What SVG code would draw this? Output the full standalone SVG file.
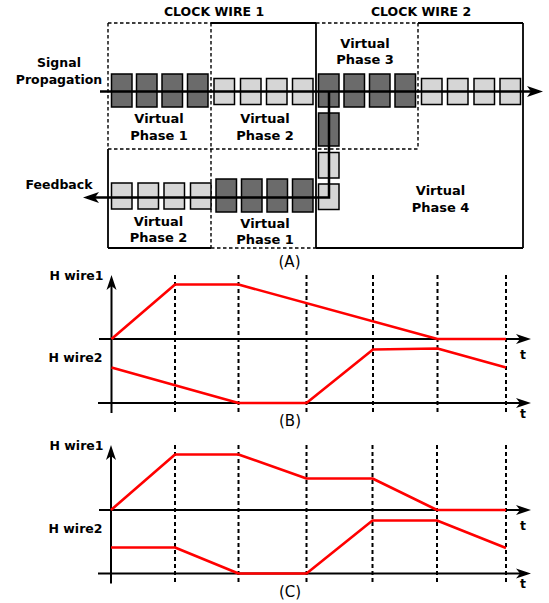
<svg xmlns="http://www.w3.org/2000/svg" width="549" height="603" viewBox="0 0 549 603">
<style>
text{font-family:"DejaVu Sans","Liberation Sans",sans-serif;fill:#000}
.b{font-weight:bold;font-size:12.5px;text-anchor:middle}
.v{font-weight:bold;font-size:13px;text-anchor:middle}
.cap{font-size:15px;text-anchor:middle}
.solid{stroke:#000;stroke-width:1.8;fill:none}
.dash{stroke:#000;stroke-width:1.4;fill:none;stroke-dasharray:3.5,2.5}
.dk{fill:#6b6b6b;stroke:#000;stroke-width:1.5}
.lt{fill:#d6d6d6;stroke:#000;stroke-width:1.5}
.wire{stroke:#000;stroke-width:2.5;fill:none}
.axis{stroke:#000;stroke-width:2;fill:none}
.grid{stroke:#000;stroke-width:2;fill:none;stroke-dasharray:4,3}
.red{stroke:#ff0000;stroke-width:2.6;fill:none;stroke-linejoin:round}
</style>
<defs>
<marker id="ah" viewBox="-12 -6 17 12" refX="0" refY="0" markerWidth="17" markerHeight="12" orient="auto" markerUnits="userSpaceOnUse">
<path d="M4,0 L-12,-5.5 L-8,0 L-12,5.5 Z" fill="#000"/>
</marker>
<marker id="ah2" viewBox="-12 -6 17 12" refX="0" refY="0" markerWidth="17" markerHeight="12" orient="auto" markerUnits="userSpaceOnUse">
<path d="M4,0 L-11,-5 L-7,0 L-11,5 Z" fill="#000"/>
</marker>
</defs>

<g id="panelA-frame">
<line class="dash" x1="108" y1="23" x2="211" y2="23"/>
<line class="solid" x1="211" y1="23" x2="316" y2="23"/>
<line class="dash" x1="316" y1="23" x2="418" y2="23"/>
<line class="solid" x1="418" y1="23" x2="523" y2="23"/>
<line class="dash" x1="108" y1="23" x2="108" y2="149"/>
<line class="solid" x1="108" y1="149" x2="108" y2="248"/>
<line class="solid" x1="108" y1="248" x2="211" y2="248"/>
<line class="dash" x1="211" y1="248" x2="316" y2="248"/>
<line class="solid" x1="316" y1="248" x2="523" y2="248"/>
<line class="solid" x1="523" y1="23" x2="523" y2="248"/>
<line class="solid" x1="316" y1="23" x2="316" y2="248"/>
<line class="dash" x1="211" y1="23" x2="211" y2="248"/>
<line class="dash" x1="418" y1="23" x2="418" y2="149"/>
<line class="dash" x1="108" y1="149" x2="418" y2="149"/>
</g>

<g id="labelsA">
<text class="b" x="214" y="15.5">CLOCK WIRE 1</text>
<text class="b" x="421" y="15.5">CLOCK WIRE 2</text>
<text class="b" x="59" y="67">Signal</text>
<text class="b" x="59" y="83.5">Propagation</text>
<text class="b" x="59" y="188.5">Feedback</text>
<text class="cap" x="289.5" y="267">(A)</text>
</g>

<g id="vp1-top"><text class="v" x="159" y="123">Virtual</text><text class="v" x="159" y="140">Phase 1</text></g>
<g id="vp2-top"><text class="v" x="265" y="123">Virtual</text><text class="v" x="265" y="140">Phase 2</text></g>
<g id="vp3"><text class="v" x="365" y="47.5">Virtual</text><text class="v" x="365" y="64">Phase 3</text></g>
<g id="vp2-bottom"><text class="v" x="158.5" y="225.5">Virtual</text><text class="v" x="158.5" y="242">Phase 2</text></g>
<g id="vp1-bottom"><text class="v" x="265" y="227.5">Virtual</text><text class="v" x="265" y="243.5">Phase 1</text></g>
<g id="vp4"><text class="v" x="440.5" y="195">Virtual</text><text class="v" x="440.5" y="211.7">Phase 4</text></g>

<g id="cells">
<rect class="dk" x="111.5" y="74" width="20.5" height="33"/>
<rect class="dk" x="136.5" y="74" width="20.5" height="33"/>
<rect class="dk" x="162" y="74" width="20.5" height="33"/>
<rect class="dk" x="187.5" y="74" width="20.5" height="33"/>
<rect class="lt" x="214" y="78.5" width="20.5" height="26"/>
<rect class="lt" x="240.5" y="78.5" width="20.5" height="26"/>
<rect class="lt" x="266.5" y="78.5" width="20.5" height="26"/>
<rect class="lt" x="292.5" y="78.5" width="20.5" height="26"/>
<rect class="dk" x="318.5" y="74" width="20.5" height="33"/>
<rect class="dk" x="344" y="74" width="20.5" height="33"/>
<rect class="dk" x="369.5" y="74" width="20.5" height="33"/>
<rect class="dk" x="395" y="74" width="20.5" height="33"/>
<rect class="lt" x="421.5" y="78.5" width="20.5" height="26"/>
<rect class="lt" x="447.5" y="78.5" width="20.5" height="26"/>
<rect class="lt" x="474" y="78.5" width="20.5" height="26"/>
<rect class="lt" x="500" y="78.5" width="20.5" height="26"/>
<rect class="dk" x="318.5" y="113" width="20.5" height="33"/>
<rect class="lt" x="318.5" y="152.5" width="20.5" height="25.5"/>
<rect class="lt" x="318.5" y="184" width="20.5" height="25.5"/>
<rect class="lt" x="111.5" y="183" width="20.5" height="26"/>
<rect class="lt" x="138" y="183" width="20.5" height="26"/>
<rect class="lt" x="164" y="183" width="20.5" height="26"/>
<rect class="lt" x="190.5" y="183" width="20.5" height="26"/>
<rect class="dk" x="216" y="179" width="20.5" height="33"/>
<rect class="dk" x="241.5" y="179" width="20.5" height="33"/>
<rect class="dk" x="267" y="179" width="20.5" height="33"/>
<rect class="dk" x="292.5" y="179" width="20.5" height="33"/>
</g>

<g id="connectors">
<line class="wire" x1="100" y1="91.5" x2="539" y2="91.5" marker-end="url(#ah)"/>
<path class="wire" d="M329,91.5 L329,197.5 L87,197.5" marker-end="url(#ah)"/>
</g>

<g id="panelB">
<g class="grid">
<line x1="175" y1="275" x2="175" y2="413"/>
<line x1="238.5" y1="275" x2="238.5" y2="413"/>
<line x1="306.5" y1="275" x2="306.5" y2="413"/>
<line x1="373" y1="275" x2="373" y2="413"/>
<line x1="437.5" y1="275" x2="437.5" y2="413"/>
<line x1="506" y1="275" x2="506" y2="413"/>
</g>
<line class="axis" x1="111.5" y1="413" x2="111.5" y2="279" marker-end="url(#ah2)"/>
<line class="axis" x1="99" y1="339" x2="527" y2="339" marker-end="url(#ah2)"/>
<line class="axis" x1="98" y1="403" x2="527" y2="403" marker-end="url(#ah2)"/>
<polyline class="red" points="111.5,339 175,284.5 238.5,284.5 437.5,339 506,339"/>
<polyline class="red" points="111.5,367.5 238.5,403 306.5,403 373,349.5 437.5,348.5 506,367.5"/>
<text class="b" x="76.5" y="279.5">H wire1</text>
<text class="b" x="75.5" y="361.5">H wire2</text>
<text class="b" x="523" y="359">t</text>
<text class="b" x="523" y="417.5">t</text>
<text class="cap" x="290" y="426">(B)</text>
</g>

<g id="panelC">
<g class="grid">
<line x1="175" y1="445" x2="175" y2="583.5"/>
<line x1="238.5" y1="445" x2="238.5" y2="583.5"/>
<line x1="306.5" y1="445" x2="306.5" y2="583.5"/>
<line x1="372.5" y1="445" x2="372.5" y2="583.5"/>
<line x1="437" y1="445" x2="437" y2="583.5"/>
<line x1="506" y1="445" x2="506" y2="583.5"/>
</g>
<line class="axis" x1="111" y1="583.5" x2="111" y2="449" marker-end="url(#ah2)"/>
<line class="axis" x1="99" y1="510" x2="527" y2="510" marker-end="url(#ah2)"/>
<line class="axis" x1="98" y1="573.5" x2="527" y2="573.5" marker-end="url(#ah2)"/>
<polyline class="red" points="111,510 175,454.5 238.5,454.5 306.5,478.5 372.5,478.5 437,510 506,510"/>
<polyline class="red" points="111,547.5 175,547.5 238.5,573.5 306.5,573.5 372.5,520.5 437,520.5 506,548"/>
<text class="b" x="76.5" y="450">H wire1</text>
<text class="b" x="75.5" y="532.5">H wire2</text>
<text class="b" x="523" y="530">t</text>
<text class="b" x="523" y="587.5">t</text>
<text class="cap" x="290" y="597">(C)</text>
</g>
</svg>
